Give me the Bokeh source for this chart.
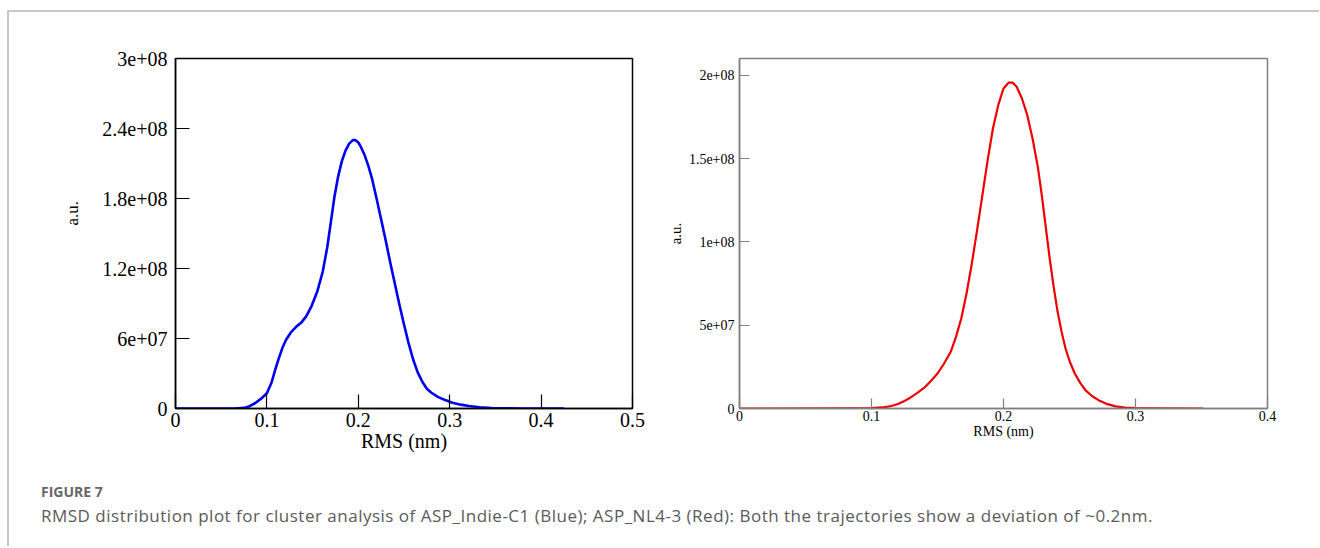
from bokeh.plotting import figure
from bokeh.models import Range1d, FixedTicker, Div, Spacer, Title
from bokeh.layouts import row, column
from bokeh.embed import file_html
from bokeh.resources import INLINE

# ---- data ----
blue_rms = [0.0, 0.065, 0.075, 0.081, 0.087, 0.093, 0.100, 0.105, 0.109, 0.113, 0.117,
            0.121, 0.126, 0.132, 0.138, 0.143, 0.149, 0.155, 0.161, 0.166, 0.170,
            0.174, 0.178, 0.182, 0.186, 0.190, 0.194, 0.197, 0.200, 0.203, 0.207,
            0.211, 0.215, 0.220, 0.225, 0.230, 0.235, 0.240, 0.245, 0.250, 0.255,
            0.260, 0.265, 0.270, 0.275, 0.280, 0.287, 0.295, 0.303, 0.312, 0.321,
            0.333, 0.346, 0.360, 0.380, 0.424]
blue_au = [0.0, 0.0, 0.005e8, 0.02e8, 0.045e8, 0.08e8, 0.13e8, 0.22e8, 0.33e8, 0.43e8, 0.52e8,
           0.59e8, 0.65e8, 0.70e8, 0.74e8, 0.79e8, 0.88e8, 1.00e8, 1.17e8, 1.38e8, 1.60e8,
           1.82e8, 1.99e8, 2.12e8, 2.21e8, 2.27e8, 2.30e8, 2.30e8, 2.28e8, 2.24e8, 2.17e8,
           2.08e8, 1.97e8, 1.80e8, 1.62e8, 1.44e8, 1.25e8, 1.07e8, 0.89e8, 0.72e8, 0.56e8,
           0.42e8, 0.31e8, 0.23e8, 0.17e8, 0.135e8, 0.10e8, 0.072e8, 0.05e8, 0.033e8, 0.021e8,
           0.011e8, 0.004e8, 0.001e8, 0.0, 0.0]

red_rms = [0.0, 0.090, 0.100, 0.110, 0.115, 0.120, 0.125, 0.130, 0.135, 0.140, 0.145,
           0.150, 0.155, 0.160, 0.164, 0.168, 0.172, 0.176, 0.180, 0.184, 0.188,
           0.192, 0.196, 0.200, 0.204, 0.207, 0.210, 0.214, 0.218, 0.222, 0.226,
           0.229, 0.232, 0.235, 0.238, 0.241, 0.244, 0.247, 0.250, 0.254, 0.258,
           0.262, 0.267, 0.272, 0.278, 0.285, 0.292, 0.300, 0.310, 0.351]
red_au = [0.0, 0.0005e8, 0.002e8, 0.008e8, 0.015e8, 0.027e8, 0.045e8, 0.068e8, 0.095e8, 0.125e8, 0.165e8,
          0.21e8, 0.27e8, 0.34e8, 0.43e8, 0.54e8, 0.69e8, 0.87e8, 1.07e8, 1.28e8, 1.49e8,
          1.68e8, 1.82e8, 1.92e8, 1.956e8, 1.955e8, 1.93e8, 1.86e8, 1.76e8, 1.62e8, 1.45e8,
          1.28e8, 1.09e8, 0.90e8, 0.73e8, 0.58e8, 0.46e8, 0.36e8, 0.285e8, 0.21e8, 0.155e8,
          0.11e8, 0.075e8, 0.05e8, 0.028e8, 0.013e8, 0.006e8, 0.002e8, 0.0005e8, 0.0]

left_xticks = [0, 0.1, 0.2, 0.3, 0.4, 0.5]
left_xlabels = ["0", "0.1", "0.2", "0.3", "0.4", "0.5"]
left_yticks = [0, 6e7, 1.2e8, 1.8e8, 2.4e8, 3e8]
left_ylabels = ["0", "6e+07", "1.2e+08", "1.8e+08", "2.4e+08", "3e+08"]

right_xticks = [0, 0.1, 0.2, 0.3, 0.4]
right_xlabels = ["0", "0.1", "0.2", "0.3", "0.4"]
right_yticks = [0, 5e7, 1e8, 1.5e8, 2e8]
right_ylabels = ["0", "5e+07", "1e+08", "1.5e+08", "2e+08"]

x_title = "RMS (nm)"
y_title = "a.u."
caption_head = "FIGURE 7"
caption_text = ("RMSD distribution plot for cluster analysis of ASP_Indie-C1 (Blue); "
                "ASP_NL4-3 (Red): Both the trajectories show a deviation of ~0.2nm.")

SERIF = "Liberation Serif"


def make_panel(xs, ys, color, lw, xr, yr, xt, xl, yt, yl, fw, fh, bl, br, bt, bb,
               tick_fs, xlab_fs, ylab_fs, tick_len, axis_color, x_std, y_std, xlab_std, ylab_std):
    p = figure(width=bl + fw + br, height=bt + fh + bb, output_backend="svg",
               toolbar_location=None, x_range=Range1d(*xr), y_range=Range1d(*yr),
               min_border_left=bl, min_border_right=br, min_border_top=bt, min_border_bottom=bb)
    p.grid.visible = False
    p.background_fill_color = "white"
    p.border_fill_color = "white"
    p.outline_line_color = axis_color
    p.outline_line_width = 1.5
    p.outline_line_alpha = 1.0
    p.line(xs, ys, line_color=color, line_width=lw, line_join="round", line_cap="round")

    for ax, ticks, labels, lab_fs, std, lab_std in (
            (p.xaxis[0], xt, xl, xlab_fs, x_std, xlab_std),
            (p.yaxis[0], yt, yl, ylab_fs, y_std, ylab_std)):
        ax.ticker = FixedTicker(ticks=ticks, minor_ticks=[])
        ax.major_label_overrides = dict(zip(ticks, labels))
        ax.major_tick_in = tick_len
        ax.major_tick_out = 0
        ax.minor_tick_in = 0
        ax.minor_tick_out = 0
        ax.axis_line_color = axis_color
        ax.axis_line_width = 1.5
        ax.major_tick_line_color = axis_color
        ax.major_tick_line_width = 1.2
        ax.major_label_text_font = SERIF
        ax.major_label_text_font_size = f"{tick_fs}px"
        ax.major_label_text_color = "black"
        ax.major_label_standoff = std
        ax.axis_label_text_font = SERIF
        ax.axis_label_text_font_style = "normal"
        ax.axis_label_text_color = "black"
        ax.axis_label_text_font_size = f"{lab_fs}px"
        ax.axis_label_standoff = lab_std
    p.xaxis.axis_label = x_title
    p.yaxis.axis_label = y_title
    return p


p1 = make_panel(blue_rms, blue_au, "#0000ee", 2.6, (0, 0.5), (0, 3e8),
                left_xticks, left_xlabels, left_yticks, left_ylabels,
                fw=457, fh=354, bl=166, br=20, bt=42, bb=74,
                tick_fs=20, xlab_fs=20, ylab_fs=17, tick_len=14, axis_color="black",
                x_std=4, y_std=8, xlab_std=0, ylab_std=23)
# left panel's y title sits above the frame's middle: draw it as a side title with an offset
p1.yaxis.axis_label = None
p1.add_layout(Title(text=y_title, align="left", offset=183, standoff=35,
                    text_font=SERIF, text_font_size="17px", text_font_style="normal",
                    text_color="black"), "left")

p2 = make_panel(red_rms, red_au, "#ee0000", 2.2, (0, 0.4), (0, 2.1e8),
                right_xticks, right_xlabels, right_yticks, right_ylabels,
                fw=528, fh=370, bl=87, br=20, bt=46, bb=54,
                tick_fs=14, xlab_fs=14, ylab_fs=15, tick_len=10, axis_color="#808080",
                x_std=2, y_std=5, xlab_std=0, ylab_std=2)

caption = Div(
    text=(f'<div style="font-family:\'Open Sans\';font-weight:700;font-size:14px;'
          f'line-height:16px;color:#666666;margin:0;padding:0;">{caption_head}</div>'
          f'<div style="font-family:\'Open Sans\';font-size:17px;line-height:20px;'
          f'letter-spacing:0.5px;color:#5a5a5a;margin:6px 0 0 0;padding:0;white-space:nowrap;">{caption_text}</div>'),
    width=1310, height=64,
    styles={"padding-left": "32px", "padding-top": "2px", "margin": "0"})

inner = column(row(p1, p2), caption,
               styles={"border-top": "2px solid #c8c8c8", "border-left": "2px solid #c8c8c8"})
layout = column(Spacer(height=10), row(Spacer(width=7), inner))

open("out.html", "w").write(file_html(layout, INLINE))
